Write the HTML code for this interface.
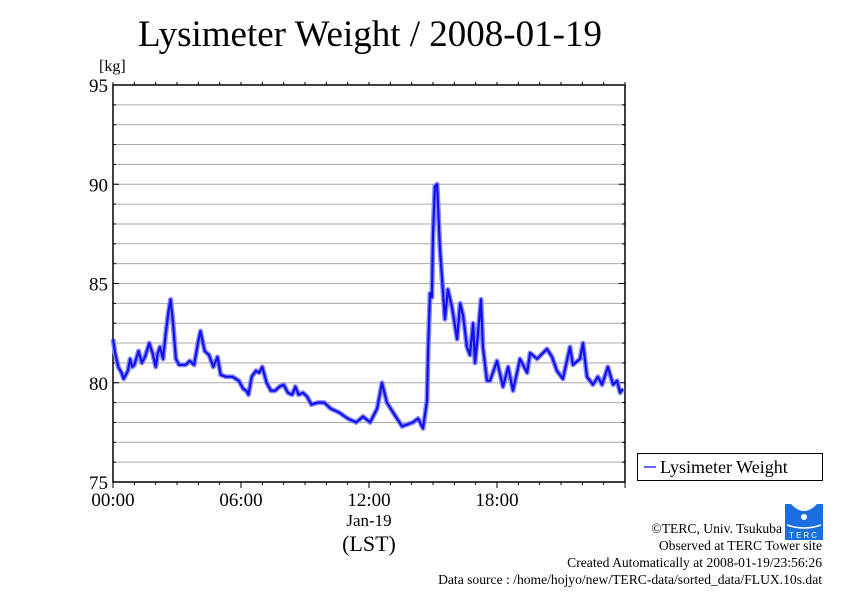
<!DOCTYPE html>
<html><head><meta charset="utf-8"><style>
body{margin:0;background:#fff;}
svg{display:block;font-family:"Liberation Serif",serif;}
</style></head><body>
<svg id="c" width="842" height="595" viewBox="0 0 842 595">
<text x="370" y="46" font-size="37" text-anchor="middle">Lysimeter Weight / 2008-01-19</text>
<text x="99" y="71" font-size="16">[kg]</text>
<g id="grid"></g>
<g id="axes"></g>
<g id="series"></g>
<text x="369" y="526" font-size="17" text-anchor="middle">Jan-19</text>
<text x="369" y="551" font-size="22" text-anchor="middle">(LST)</text>
<g>
<rect x="637.5" y="453.5" width="185" height="27" fill="#fff" stroke="#000" stroke-width="1"/>
<line x1="644" y1="467" x2="656" y2="467" stroke="#33f" stroke-width="1.5"/>
<text x="660" y="473" font-size="18">Lysimeter Weight</text>
</g>
<g>
<path d="M785,504 h38 v36 h-38z" fill="#1a6fe0"/>
<path d="M791,504 q13,14 26,0z" fill="#fff"/>
<circle cx="804" cy="517" r="3" fill="#fff"/>
<path d="M787,525 q17,6 34,0" stroke="#fff" fill="none" stroke-width="1.5"/>
<text x="804" y="538" font-size="8" fill="#fff" text-anchor="middle" font-family="Liberation Sans,sans-serif" letter-spacing="2">TERC</text>
</g>
<g font-size="13.6" text-anchor="end">
<text x="782" y="533">©TERC, Univ. Tsukuba</text>
<text x="822" y="550">Observed at TERC Tower site</text>
<text x="822" y="567">Created Automatically at 2008-01-19/23:56:26</text>
<text x="822" y="584">Data source : /home/hojyo/new/TERC-data/sorted_data/FLUX.10s.dat</text>
</g>
</svg>
<script>
const hours=[0,0.1,0.25,0.4,0.5,0.7,0.8,0.9,1.0,1.2,1.35,1.5,1.7,1.85,2.0,2.1,2.2,2.35,2.45,2.6,2.7,2.8,2.95,3.1,3.4,3.6,3.8,4.0,4.1,4.3,4.5,4.7,4.9,5.05,5.3,5.6,5.9,6.1,6.25,6.35,6.5,6.7,6.85,7.0,7.2,7.4,7.6,7.8,8.0,8.2,8.4,8.55,8.7,8.9,9.1,9.3,9.6,9.9,10.2,10.6,11.0,11.4,11.72,12.05,12.38,12.61,12.84,13.13,13.55,14.06,14.3,14.53,14.72,14.77,14.86,14.95,15.0,15.09,15.19,15.33,15.42,15.56,15.7,15.89,16.13,16.27,16.41,16.59,16.73,16.88,16.97,17.11,17.25,17.34,17.53,17.67,18.0,18.28,18.52,18.75,19.08,19.41,19.55,19.88,20.34,20.58,20.81,21.09,21.42,21.56,21.89,22.03,22.22,22.5,22.73,22.92,23.2,23.44,23.63,23.77,23.9];
const weights=[82.2,81.5,80.8,80.5,80.2,80.6,81.2,80.8,80.9,81.6,81.0,81.3,82.0,81.5,80.8,81.5,81.8,81.2,82.3,83.6,84.2,83.2,81.2,80.9,80.9,81.1,80.9,82.1,82.6,81.6,81.4,80.8,81.3,80.4,80.3,80.3,80.1,79.7,79.6,79.4,80.3,80.6,80.5,80.8,80.0,79.6,79.6,79.8,79.9,79.5,79.4,79.8,79.4,79.5,79.3,78.9,79.0,79.0,78.7,78.5,78.2,78.0,78.3,78.0,78.7,80.0,79.0,78.5,77.8,78.0,78.2,77.7,79.1,81.6,84.5,84.3,87.5,89.9,90.0,86.7,85.3,83.2,84.7,83.8,82.2,84.0,83.4,81.8,81.4,83.0,81.0,82.5,84.2,81.8,80.1,80.1,81.1,79.8,80.8,79.6,81.2,80.5,81.5,81.2,81.7,81.3,80.6,80.2,81.8,80.9,81.2,82.0,80.3,79.9,80.3,79.9,80.8,79.9,80.1,79.5,79.7];
const yTicks=[75,80,85,90,95];
const xTicks=[0,6,12,18];
const xTickLabels=["00:00","06:00","12:00","18:00"];
const X0=113,X1=625,Y0=482,Y1=85;
const xs=h=>X0+(X1-X0)*h/24;
const ys=v=>Y0-(Y0-Y1)*(v-75)/20;
const NS="http://www.w3.org/2000/svg";
function mk(tag,attrs,parent){const e=document.createElementNS(NS,tag);for(const k in attrs)e.setAttribute(k,attrs[k]);parent.appendChild(e);return e;}
const grid=document.getElementById('grid'),axes=document.getElementById('axes'),ser=document.getElementById('series');
for(let v=76;v<95;v++){const l=mk('line',{x1:X0,x2:X1,y1:ys(v),y2:ys(v),stroke:'#aaa','stroke-width':1},grid);

}
for(let v=75;v<=95;v++){const big=v%5===0;
mk('line',{x1:X0,x2:X0+(big?6:3),y1:ys(v),y2:ys(v),stroke:'#000'},axes);
mk('line',{x1:X1,x2:X1-(big?6:3),y1:ys(v),y2:ys(v),stroke:'#000'},axes);}
for(let h=0;h<=24;h++){const big=h%6===0;
mk('line',{x1:xs(h),x2:xs(h),y1:Y0,y2:Y0+(big?6:3),stroke:'#000'},axes);
mk('line',{x1:xs(h),x2:xs(h),y1:Y1,y2:Y1-3,stroke:'#000'},axes);}
mk('rect',{x:X0,y:Y1,width:X1-X0,height:Y0-Y1,fill:'none',stroke:'#000','stroke-width':1.5},axes);
yTicks.forEach(v=>{const t=mk('text',{x:X0-5,y:ys(v)+7,'font-size':19,'text-anchor':'end'},axes);t.textContent=v;

});
xTicks.forEach((h,i)=>{const t=mk('text',{x:xs(h),y:Y0+24,'font-size':19,'text-anchor':'middle'},axes);t.textContent=xTickLabels[i];

});
const pts=hours.map((h,i)=>xs(h).toFixed(1)+','+ys(weights[i]).toFixed(1)).join(' ');
const halo=mk('polyline',{points:pts,fill:'none',stroke:'#8a8aff','stroke-width':5,'stroke-linejoin':'round'},ser);


const line=mk('polyline',{points:pts,fill:'none',stroke:'#1010ee','stroke-width':2.2,'stroke-linejoin':'round'},ser);


</script>
</body></html>
